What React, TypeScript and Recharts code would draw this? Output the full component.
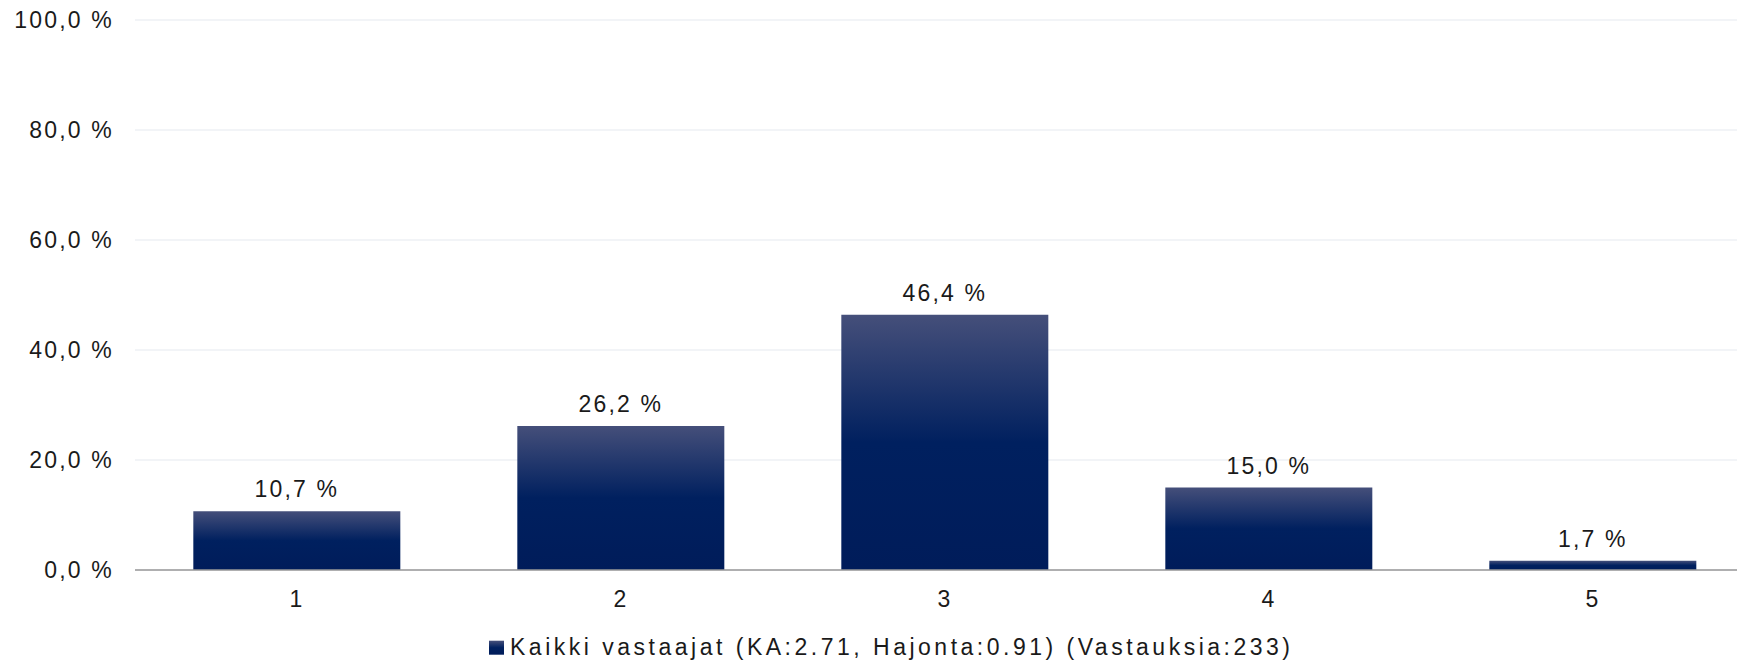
import React from 'react';
import { BarChart, Bar, XAxis, YAxis, CartesianGrid, Legend, LabelList } from 'recharts';

const categories = ['1', '2', '3', '4', '5'];
const values = [10.7, 26.2, 46.4, 15.0, 1.7];
const yTicks = [0, 20, 40, 60, 80, 100];
const seriesName = 'Kaikki vastaajat (KA:2.71, Hajonta:0.91) (Vastauksia:233)';

const data = categories.map((c, i) => ({ cat: c, value: values[i] }));

const FONT = '"Liberation Sans", Arial, sans-serif';
const TEXT = '#1a1a1a';
const fmt = (v: number) => v.toFixed(1).replace('.', ',') + ' %';

const Grad = ({ id }: { id: string }) => (
  <linearGradient id={id} x1="0" y1="0" x2="0" y2="1">
    <stop offset="0%" stopColor="#454f7a" />
    <stop offset="50%" stopColor="#00205f" />
    <stop offset="100%" stopColor="#001c5a" />
  </linearGradient>
);

const LegendContent = () => (
  <svg width={1737} height={37} style={{ display: 'block' }}>
    <defs>
      <Grad id="legGrad" />
    </defs>
    <rect x={489} y={12.7} width={15} height={14} fill="url(#legGrad)" />
    <text
      x={510}
      y={27.3}
      fontSize={23}
      fontFamily={FONT}
      fill={TEXT}
      textLength={780}
      lengthAdjust="spacing"
    >
      {seriesName}
    </text>
  </svg>
);

export default function App() {
  return (
    <div
      style={{
        position: 'fixed',
        left: 0,
        top: 0,
        width: 1737,
        height: 665,
        overflow: 'hidden',
        background: '#fff',
      }}
    >
      <BarChart
        width={1760}
        height={665}
        data={data}
        margin={{ top: 20, right: 5, bottom: 0, left: 0 }}
        barCategoryGap="18%"
      >
        <defs>
          <Grad id="barGrad" />
        </defs>
        <CartesianGrid vertical={false} stroke="#eef1f5" strokeWidth={1.5} />
        <XAxis
          dataKey="cat"
          height={58}
          tickLine={false}
          tickSize={0}
          tickMargin={21}
          axisLine={{ stroke: '#999999', strokeWidth: 1.5 }}
          tick={{ fill: TEXT, fontSize: 23, fontFamily: FONT, letterSpacing: 2.2 }}
        />
        <YAxis
          width={135}
          domain={[0, 100]}
          ticks={yTicks}
          interval={0}
          tickFormatter={fmt}
          axisLine={false}
          tickLine={false}
          tickSize={0}
          tickMargin={21}
          tick={{ fill: TEXT, fontSize: 23, fontFamily: FONT, letterSpacing: 2.2 }}
        />
        <Legend
          verticalAlign="bottom"
          height={37}
          content={<LegendContent />}
          wrapperStyle={{ left: 0, top: 628, width: 1737, height: 37 }}
        />
        <Bar dataKey="value" name={seriesName} fill="url(#barGrad)" isAnimationActive={false}>
          <LabelList
            dataKey="value"
            position="top"
            offset={14}
            formatter={(v: any) => fmt(Number(v))}
            style={{ fill: TEXT, fontSize: 23, fontFamily: FONT, letterSpacing: 2.2 }}
          />
        </Bar>
      </BarChart>
    </div>
  );
}
